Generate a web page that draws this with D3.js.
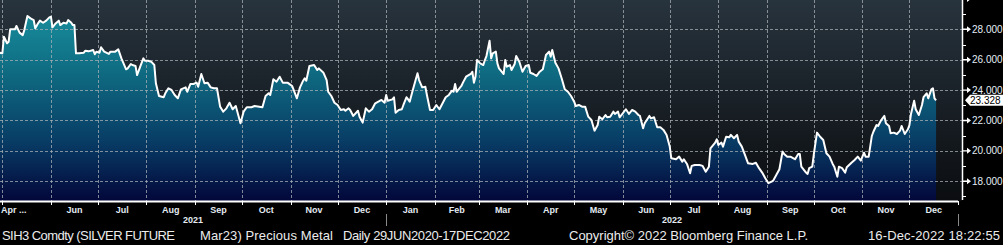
<!DOCTYPE html>
<html>
<head>
<meta charset="utf-8">
<script src="https://cdn.jsdelivr.net/npm/d3@7"></script>
<style>
  body { margin: 0; background: #000; overflow: hidden; }
  svg { display: block; }
</style>
</head>
<body>
<div id="svgContainer"></div>
<script>
const width = 1003;
const height = 245;
const plot = ({left: 0, right: 958, top: 0, bottom: 201, axisX: 962});

// SIH3 Comdty
const dates = [
  "2021-04-29","2021-05-01","2021-05-02","2021-05-04","2021-05-05","2021-05-06","2021-05-09","2021-05-10","2021-05-12","2021-05-14","2021-05-15","2021-05-17","2021-05-19","2021-05-21","2021-05-22","2021-05-24","2021-05-25","2021-05-27","2021-05-29","2021-05-31",
  "2021-06-01","2021-06-02","2021-06-04","2021-06-06","2021-06-07","2021-06-09","2021-06-11","2021-06-12","2021-06-14","2021-06-15","2021-06-16","2021-06-17","2021-06-19","2021-06-22","2021-06-23","2021-06-25","2021-06-28","2021-06-29","2021-06-30",
  "2021-07-02","2021-07-03","2021-07-05","2021-07-08","2021-07-09","2021-07-12","2021-07-14","2021-07-16","2021-07-19","2021-07-20","2021-07-22","2021-07-23","2021-07-25","2021-07-26","2021-07-28","2021-07-30","2021-07-31",
  "2021-08-02","2021-08-04","2021-08-06","2021-08-07","2021-08-09","2021-08-12","2021-08-13","2021-08-15","2021-08-17","2021-08-19","2021-08-21","2021-08-23","2021-08-26","2021-08-27","2021-08-29","2021-08-31",
  "2021-09-02","2021-09-03","2021-09-05","2021-09-07","2021-09-09","2021-09-11","2021-09-13","2021-09-15","2021-09-17","2021-09-19","2021-09-21","2021-09-23","2021-09-25","2021-09-27","2021-09-30",
  "2021-10-02","2021-10-04","2021-10-07","2021-10-09","2021-10-12","2021-10-14","2021-10-16","2021-10-18","2021-10-19","2021-10-21","2021-10-23","2021-10-25","2021-10-27","2021-10-30",
  "2021-11-01","2021-11-02","2021-11-05","2021-11-07","2021-11-09","2021-11-10","2021-11-11","2021-11-13","2021-11-16","2021-11-18","2021-11-19","2021-11-22","2021-11-24","2021-11-25","2021-11-27","2021-11-29",
  "2021-12-01","2021-12-03","2021-12-05","2021-12-06","2021-12-08","2021-12-09","2021-12-11","2021-12-14","2021-12-15","2021-12-17","2021-12-19","2021-12-21","2021-12-23","2021-12-25","2021-12-27","2021-12-29","2021-12-31",
  "2022-01-01","2022-01-02","2022-01-05","2022-01-06","2022-01-07","2022-01-09","2022-01-11","2022-01-12","2022-01-14","2022-01-15","2022-01-16","2022-01-18","2022-01-21","2022-01-22","2022-01-24","2022-01-26","2022-01-27","2022-01-29","2022-01-31",
  "2022-02-02","2022-02-04","2022-02-08","2022-02-10","2022-02-12","2022-02-13","2022-02-14","2022-02-15","2022-02-18","2022-02-19","2022-02-21","2022-02-24","2022-02-25","2022-02-26","2022-02-27","2022-02-28",
  "2022-03-02","2022-03-04","2022-03-05","2022-03-06","2022-03-08","2022-03-09","2022-03-10","2022-03-12","2022-03-13","2022-03-14","2022-03-17","2022-03-18","2022-03-19","2022-03-21","2022-03-22","2022-03-24","2022-03-25","2022-03-27","2022-03-29","2022-03-31",
  "2022-04-02","2022-04-03","2022-04-05","2022-04-07","2022-04-09","2022-04-11","2022-04-13","2022-04-15","2022-04-16","2022-04-17","2022-04-19","2022-04-21","2022-04-23","2022-04-25","2022-04-27","2022-04-29",
  "2022-05-01","2022-05-02","2022-05-04","2022-05-06","2022-05-08","2022-05-10","2022-05-12","2022-05-14","2022-05-16","2022-05-17","2022-05-19","2022-05-21","2022-05-22","2022-05-24","2022-05-26","2022-05-27","2022-05-29","2022-05-30",
  "2022-06-01","2022-06-03","2022-06-05","2022-06-07","2022-06-09","2022-06-11","2022-06-12","2022-06-14","2022-06-15","2022-06-18","2022-06-19","2022-06-21","2022-06-23","2022-06-25","2022-06-27","2022-06-29",
  "2022-07-01","2022-07-02","2022-07-05","2022-07-07","2022-07-09","2022-07-10","2022-07-12","2022-07-14","2022-07-15","2022-07-17","2022-07-20","2022-07-22","2022-07-24","2022-07-26","2022-07-27","2022-07-30","2022-07-31",
  "2022-08-01","2022-08-03","2022-08-04","2022-08-06","2022-08-08","2022-08-09","2022-08-11","2022-08-13","2022-08-14","2022-08-16","2022-08-18","2022-08-20","2022-08-23","2022-08-25","2022-08-27","2022-08-29","2022-08-31",
  "2022-09-02","2022-09-04","2022-09-05","2022-09-07","2022-09-09","2022-09-11","2022-09-12","2022-09-14","2022-09-16","2022-09-18","2022-09-19","2022-09-21","2022-09-22","2022-09-23","2022-09-26","2022-09-27","2022-09-28","2022-09-30",
  "2022-10-01","2022-10-03","2022-10-05","2022-10-07","2022-10-09","2022-10-11","2022-10-13","2022-10-14","2022-10-16","2022-10-17","2022-10-19","2022-10-21","2022-10-22","2022-10-25","2022-10-27","2022-10-29","2022-10-31",
  "2022-11-02","2022-11-03","2022-11-05","2022-11-07","2022-11-08","2022-11-10","2022-11-11","2022-11-13","2022-11-15","2022-11-16","2022-11-18","2022-11-19","2022-11-21","2022-11-23","2022-11-25","2022-11-26","2022-11-28","2022-11-30",
  "2022-12-01","2022-12-02","2022-12-04","2022-12-05","2022-12-07","2022-12-09","2022-12-10","2022-12-12","2022-12-13","2022-12-15","2022-12-16","2022-12-17","2022-12-18"
];

const prices = [
  26.46,26.42,27.51,27.08,27.18,28.00,28.00,28.22,27.78,27.62,27.95,28.88,28.72,28.61,28.07,28.43,28.57,28.43,28.57,28.79,
  28.83,28.13,28.39,28.57,28.28,28.43,28.39,28.61,28.43,28.28,28.28,26.42,26.42,26.46,26.59,26.55,26.64,26.36,26.53,
  26.46,26.82,26.53,26.38,26.53,26.53,26.68,26.09,25.37,25.43,25.72,25.65,25.59,24.99,25.54,26.09,25.93,
  25.93,25.87,25.65,24.45,23.61,23.53,23.79,24.12,24.01,23.68,23.46,24.05,24.18,23.89,24.40,24.40,
  24.49,24.22,25.06,24.45,24.49,24.18,24.12,24.12,22.91,22.58,22.80,23.17,22.74,22.95,21.82,
  22.58,22.87,22.87,22.95,22.91,22.87,23.61,23.79,23.68,24.71,24.55,24.88,24.49,24.49,
  24.34,24.27,23.46,24.18,24.62,24.78,24.62,25.59,25.65,25.32,25.43,25.14,24.66,23.89,23.61,23.17,
  23.02,22.69,22.74,22.64,22.80,22.69,22.30,22.64,22.25,21.86,22.80,22.58,22.74,23.13,23.24,23.35,23.17,
  23.68,23.30,23.39,23.53,22.51,22.69,22.74,23.02,23.53,23.39,23.24,24.01,25.11,24.66,24.18,24.22,23.68,22.69,22.69,
  23.02,22.74,23.53,23.68,23.96,23.89,24.40,23.89,24.27,24.49,24.88,25.06,25.21,24.49,24.88,25.98,
  25.76,25.65,25.98,26.24,27.25,26.09,26.42,26.53,25.76,25.43,25.06,25.98,25.54,25.65,25.32,25.72,26.24,25.87,25.21,25.59,
  25.65,25.14,25.06,24.93,25.21,25.37,26.31,26.53,26.20,26.64,25.80,25.43,24.78,24.05,23.89,23.61,
  23.24,22.95,23.02,22.91,22.91,22.25,22.03,21.33,21.70,22.25,22.08,22.36,22.21,22.25,22.58,22.43,22.58,22.21,
  22.47,22.74,22.43,22.69,22.58,22.36,22.30,21.49,21.82,22.30,22.14,22.21,21.55,21.55,21.38,21.05,
  20.28,19.51,19.45,19.62,19.29,19.45,19.14,18.53,19.01,19.07,19.07,19.01,18.63,18.96,20.17,20.54,20.76,
  20.39,20.54,20.28,20.93,20.89,21.05,20.83,21.05,20.61,20.28,19.73,19.18,19.14,19.22,18.86,18.57,18.20,
  17.87,17.97,18.04,18.41,18.79,19.95,19.80,19.62,19.62,19.51,19.45,19.80,19.80,18.96,18.57,18.48,18.86,18.96,
  19.80,21.20,20.93,20.72,19.84,19.62,19.14,18.96,18.30,18.96,18.86,18.57,18.92,19.22,19.40,19.62,19.36,
  19.88,19.62,19.62,20.98,21.26,21.70,21.64,22.03,22.30,21.82,21.64,21.16,21.20,21.11,21.33,21.64,21.11,21.42,
  21.70,22.43,23.30,22.74,22.36,23.02,23.53,23.79,23.46,24.05,24.12,23.46,23.328
];

const yMajor = [18, 20, 22, 24, 26, 28, 30];
const yLabels = [18, 20, 22, 24, 26, 28];
const yMinor = [17, 19, 21, 23, 25, 27, 29];
const years = ["2021", "2022"];
const firstMonthLabel = "Apr ...";
const footer = [
  {text: "SIH3 Comdty (SILVER FUTURE", x: 2, len: 173},
  {text: "Mar23) Precious Metal", x: 200, len: 133},
  {text: "Daily 29JUN2020-17DEC2022", x: 343, len: 167},
  {text: "Copyright\u00A9 2022 Bloomberg Finance L.P.", x: 569, len: 239},
  {text: "16-Dec-2022 18:22:55", x: 868, len: 132}
];

const parseDate = d3.timeParse("%Y-%m-%d");
const data = dates.map((d, i) => ({date: parseDate(d), value: prices[i]}));

const svg = d3.select("#svgContainer").append("svg")
  .attr("width", width)
  .attr("height", height)
  .style("background", "#000");

const x = d3.scaleTime()
  .domain([new Date(2021, 3, 29, 12), new Date(2023, 0, 1)])
  .range([plot.left, plot.right]);

const y = d3.scaleLinear()
  .domain([16.70, 29.93])
  .range([plot.bottom, plot.top]);

const defs = svg.append("defs");

const bg = defs.append("linearGradient")
  .attr("id", "bg").attr("x1", 0).attr("y1", 0).attr("x2", 0).attr("y2", 1);
bg.append("stop").attr("offset", 0).attr("stop-color", "#27333d");
bg.append("stop").attr("offset", 1).attr("stop-color", "#0b0d10");

const fill = defs.append("linearGradient")
  .attr("id", "fill").attr("gradientUnits", "userSpaceOnUse")
  .attr("x1", 0).attr("y1", plot.top).attr("x2", 0).attr("y2", plot.bottom);
fill.append("stop").attr("offset", 0).attr("stop-color", "#1a94a2");
fill.append("stop").attr("offset", 0.35).attr("stop-color", "#0f6c82");
fill.append("stop").attr("offset", 0.7).attr("stop-color", "#083d66");
fill.append("stop").attr("offset", 1).attr("stop-color", "#03073a");

defs.append("clipPath").attr("id", "clip")
  .append("rect").attr("x", 0).attr("y", plot.top)
  .attr("width", plot.axisX).attr("height", plot.bottom - plot.top);

svg.append("rect")
  .attr("x", 0).attr("y", plot.top)
  .attr("width", plot.axisX).attr("height", plot.bottom - plot.top)
  .attr("fill", "url(#bg)");

const area = d3.area()
  .x(d => x(d.date))
  .y0(plot.bottom)
  .y1(d => y(d.value));

const line = d3.line()
  .x(d => x(d.date))
  .y(d => y(d.value));

const chart = svg.append("g").attr("clip-path", "url(#clip)");

chart.append("path")
  .datum(data)
  .attr("fill", "url(#fill)")
  .attr("d", area);

// grid
const months = d3.timeMonth.range(new Date(2021, 4, 1), new Date(2023, 0, 2));
const grid = chart.append("g")
  .attr("stroke", "#a9b0b6")
  .attr("stroke-opacity", 0.75)
  .attr("stroke-dasharray", "3,2")
  .attr("shape-rendering", "crispEdges");

grid.selectAll(".hg")
  .data(yLabels)
  .join("line")
    .attr("x1", 0).attr("x2", plot.axisX)
    .attr("y1", d => Math.round(y(d)) + 0.5)
    .attr("y2", d => Math.round(y(d)) + 0.5);

grid.selectAll(".vg")
  .data(months.filter(m => m < new Date(2023, 0, 1)))
  .join("line")
    .attr("x1", d => Math.round(x(d)) + 0.5)
    .attr("x2", d => Math.round(x(d)) + 0.5)
    .attr("y1", plot.top).attr("y2", plot.bottom);

chart.append("path")
  .datum(data)
  .attr("fill", "none")
  .attr("stroke", "#fff")
  .attr("stroke-width", 2)
  .attr("stroke-linejoin", "round")
  .attr("d", line);

// right axis
const axis = svg.append("g");
axis.append("line")
  .attr("x1", plot.axisX + 0.5).attr("x2", plot.axisX + 0.5)
  .attr("y1", 0).attr("y2", plot.bottom - 1)
  .attr("stroke", "#fff").attr("stroke-width", 1.5);

axis.selectAll(".minor")
  .data(yMinor)
  .join("line")
    .attr("x1", plot.axisX).attr("x2", plot.axisX + 4)
    .attr("y1", d => Math.round(y(d)) + 0.5)
    .attr("y2", d => Math.round(y(d)) + 0.5)
    .attr("stroke", "#fff");

axis.selectAll(".major")
  .data(yMajor)
  .join("path")
    .attr("d", d => {
      const yy = y(d);
      return `M${plot.axisX},${yy - 0.7}L${plot.axisX + 5},${yy - 0.7}L${plot.axisX + 5},${yy - 3}L${plot.axisX + 9},${yy}L${plot.axisX + 5},${yy + 3}L${plot.axisX + 5},${yy + 0.7}L${plot.axisX},${yy + 0.7}Z`;
    })
    .attr("fill", "#fff");

axis.selectAll(".ylab")
  .data(yLabels)
  .join("text")
    .attr("x", plot.axisX + 10)
    .attr("y", d => y(d) + 3.5)
    .attr("fill", "#e4edf6")
    .attr("font-family", "Liberation Sans, Arial, sans-serif")
    .attr("font-size", 10)
    .text(d => d3.format(".3f")(d));

// last value flag
const last = data[data.length - 1];
const ly = y(last.value);
axis.append("path")
  .attr("d", `M${plot.axisX + 3},${ly}L${plot.axisX + 8},${ly - 5.5}L${width},${ly - 5.5}L${width},${ly + 5.5}L${plot.axisX + 8},${ly + 5.5}Z`)
  .attr("fill", "#fff");
axis.append("text")
  .attr("x", plot.axisX + 8)
  .attr("y", ly + 3.8)
  .attr("fill", "#000")
  .attr("font-family", "Liberation Sans, Arial, sans-serif")
  .attr("font-size", 10)
  .text(d3.format(".3f")(last.value));

// bottom axis
const xAxis = svg.append("g");
xAxis.append("line")
  .attr("x1", 0).attr("x2", plot.right)
  .attr("y1", plot.bottom + 0.5).attr("y2", plot.bottom + 0.5)
  .attr("stroke", "#fff").attr("stroke-width", 2);

xAxis.selectAll(".xt")
  .data(months)
  .join("line")
    .attr("x1", d => Math.round(x(d)) + 0.5)
    .attr("x2", d => Math.round(x(d)) + 0.5)
    .attr("y1", plot.bottom).attr("y2", plot.bottom + 4)
    .attr("stroke", "#fff");

const fmtMonth = d3.timeFormat("%b");
const monthSpans = months.slice(0, -1).map((m, i) => ({m, x0: x(m), x1: x(months[i + 1])}));

xAxis.selectAll(".xl")
  .data(monthSpans)
  .join("text")
    .attr("x", (d, i) => i === 0 ? 1 : (d.x0 + d.x1) / 2)
    .attr("y", plot.bottom + 12)
    .attr("text-anchor", (d, i) => i === 0 ? "start" : "middle")
    .attr("fill", "#e4ebf2")
    .attr("font-family", "Liberation Sans, Arial, sans-serif")
    .attr("font-weight", "bold")
    .attr("font-size", 9)
    .text((d, i) => i === 0 ? firstMonthLabel : fmtMonth(d.m));

const yearBounds = [x.domain()[0], new Date(2022, 0, 1), new Date(2023, 0, 1)];
xAxis.selectAll(".ysep")
  .data(yearBounds.slice(1))
  .join("line")
    .attr("x1", d => Math.round(x(d)) + 0.5)
    .attr("x2", d => Math.round(x(d)) + 0.5)
    .attr("y1", plot.bottom + 13).attr("y2", plot.bottom + 25)
    .attr("stroke", "#8a8a8a");

xAxis.selectAll(".yl")
  .data(years)
  .join("text")
    .attr("x", (d, i) => (x(yearBounds[i]) + x(yearBounds[i + 1])) / 2)
    .attr("y", plot.bottom + 22)
    .attr("text-anchor", "middle")
    .attr("fill", "#e4ebf2")
    .attr("font-family", "Liberation Sans, Arial, sans-serif")
    .attr("font-weight", "bold")
    .attr("font-size", 9)
    .text(d => d);

// footer
svg.append("g").selectAll("text")
  .data(footer)
  .join("text")
    .attr("x", d => d.x)
    .attr("y", 240)
    .attr("textLength", d => d.len)
    .attr("fill", "#ececec")
    .attr("font-family", "Liberation Sans, Arial, sans-serif")
    .attr("font-size", 13)
    .text(d => d.text);
</script>
</body>
</html>
